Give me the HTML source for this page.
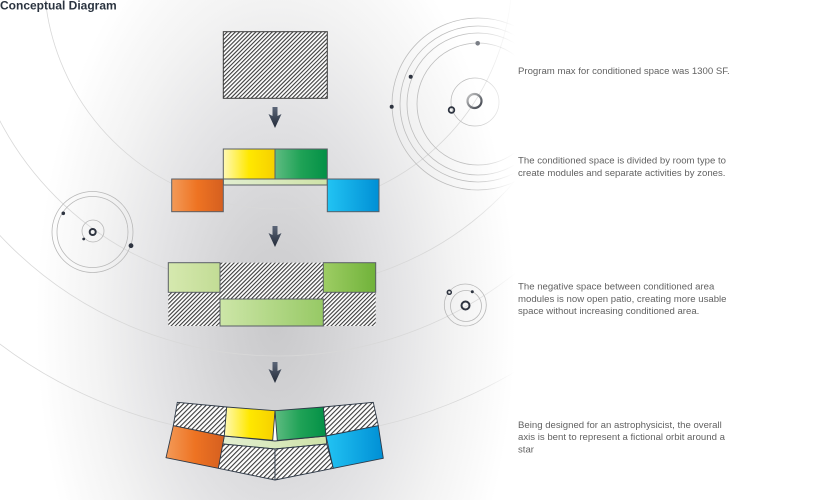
<!DOCTYPE html>
<html><head><meta charset="utf-8"><style>
html,body{margin:0;padding:0;}
body{width:820px;height:500px;overflow:hidden;position:relative;
background:#fff radial-gradient(ellipse 240px 430px at 276px 320px,#c9c9cb 0%,#d3d3d5 22%,#e2e2e4 48%,#f3f3f3 75%,#ffffff 100%);}
svg{position:absolute;left:0;top:0;}
</style></head><body>
<svg width="820" height="500" viewBox="0 0 820 500" xmlns="http://www.w3.org/2000/svg">
<defs>
<pattern id="hatch" patternUnits="userSpaceOnUse" width="2.9" height="2.9" patternTransform="rotate(45)">
<rect x="0" y="0" width="2.9" height="2.9" fill="#fff"/>
<rect x="0" y="0" width="1.1" height="2.9" fill="#3a3a3a"/>
</pattern>
<pattern id="hatch2" patternUnits="userSpaceOnUse" width="3.4" height="3.4" patternTransform="rotate(45)">
<rect x="0" y="0" width="3.4" height="3.4" fill="#fff"/>
<rect x="0" y="0" width="1.1" height="3.4" fill="#3a3a3a"/>
</pattern>
<linearGradient id="yel"><stop offset="0" stop-color="#fff9b4"/><stop offset="0.5" stop-color="#ffe800"/><stop offset="1" stop-color="#f6d000"/></linearGradient>
<linearGradient id="grn"><stop offset="0" stop-color="#5fbc82"/><stop offset="0.5" stop-color="#1fa256"/><stop offset="1" stop-color="#039046"/></linearGradient>
<linearGradient id="org"><stop offset="0" stop-color="#f39a58"/><stop offset="0.5" stop-color="#ee7322"/><stop offset="1" stop-color="#d55f20"/></linearGradient>
<linearGradient id="blu"><stop offset="0" stop-color="#22c3f3"/><stop offset="1" stop-color="#008fd5"/></linearGradient>
<linearGradient id="lg1"><stop offset="0" stop-color="#d6e9af"/><stop offset="1" stop-color="#c2dc95"/></linearGradient>
<linearGradient id="lg2"><stop offset="0" stop-color="#9ecd64"/><stop offset="1" stop-color="#70b23a"/></linearGradient>
<linearGradient id="lg3"><stop offset="0" stop-color="#cde6a8"/><stop offset="1" stop-color="#97c965"/></linearGradient>
<linearGradient id="strip"><stop offset="0" stop-color="#e2eed0"/><stop offset="1" stop-color="#cfe3a8"/></linearGradient>
<linearGradient id="arr" x1="0" y1="0" x2="0" y2="1"><stop offset="0" stop-color="#5c6678"/><stop offset="1" stop-color="#222a38"/></linearGradient>
<linearGradient id="ring" x1="0" y1="0" x2="1" y2="1"><stop offset="0" stop-color="#c8c8c8"/><stop offset="1" stop-color="#3a3f48"/></linearGradient>
<linearGradient id="fadeG" gradientUnits="userSpaceOnUse" x1="470" y1="0" x2="515" y2="0"><stop offset="0" stop-color="#fff"/><stop offset="1" stop-color="#000"/></linearGradient>
<mask id="fade"><rect x="0" y="0" width="820" height="500" fill="url(#fadeG)"/></mask>
</defs>

<!-- large orbit arcs -->
<g mask="url(#fade)" fill="none" stroke="#d8d8d8" stroke-width="0.8">
<circle cx="278" cy="-25" r="234"/>
<circle cx="278" cy="-25" r="314"/>
<circle cx="278" cy="-25" r="381"/>
<circle cx="278" cy="-25" r="462"/>
</g>

<!-- top-right orbit system -->
<g mask="url(#fade)" fill="none" stroke="#bdbdbd" stroke-width="0.8">
<circle cx="478" cy="104" r="86"/>
<circle cx="478" cy="104" r="78"/>
<circle cx="478" cy="104" r="71"/>
<circle cx="478" cy="104" r="61"/>
<circle cx="475" cy="102" r="24"/>
</g>
<circle cx="474.5" cy="101" r="7" fill="none" stroke="url(#ring)" stroke-width="2.2"/>
<circle cx="451.5" cy="110" r="2.8" fill="none" stroke="#2e3440" stroke-width="1.8"/>
<circle cx="391.7" cy="106.7" r="2" fill="#2e3440"/>
<circle cx="410.7" cy="76.7" r="2" fill="#2e3440"/>
<circle cx="477.7" cy="43.3" r="2.3" fill="#7a7e86"/>

<!-- left orbit system -->
<g fill="none" stroke="#b8b8b8" stroke-width="0.8">
<circle cx="92.5" cy="232" r="40.5"/>
<circle cx="92.5" cy="232" r="35.5"/>
<circle cx="93" cy="231" r="11"/>
</g>
<circle cx="92.7" cy="232" r="3" fill="none" stroke="#2e3440" stroke-width="2"/>
<circle cx="63.3" cy="213.3" r="1.8" fill="#2e3440"/>
<circle cx="83.7" cy="239" r="1.4" fill="#2e3440"/>
<circle cx="131" cy="245.7" r="2.4" fill="#2e3440"/>

<!-- small right orbit -->
<g fill="none" stroke="#b8b8b8" stroke-width="0.8">
<circle cx="465.3" cy="305" r="21"/>
<circle cx="466" cy="306" r="15.5"/>
</g>
<circle cx="465.5" cy="305.5" r="4" fill="none" stroke="#2e3440" stroke-width="2"/>
<circle cx="449.3" cy="292.3" r="2" fill="none" stroke="#2e3440" stroke-width="1.5"/>
<circle cx="472.3" cy="291.7" r="1.5" fill="#2e3440"/>

<!-- row 1 -->
<rect x="223.3" y="31.7" width="104" height="66.6" fill="url(#hatch)" stroke="#3a3a3a" stroke-width="1"/>

<!-- arrows -->
<g fill="url(#arr)">
<polygon points="272.5,107 277.5,107 277.5,116 281.5,114 275,128 268.5,114 272.5,116"/>
<polygon points="272.5,226 277.5,226 277.5,235 281.5,233 275,247 268.5,233 272.5,235"/>
<polygon points="272.5,362 277.5,362 277.5,371 281.5,369 275,383 268.5,369 272.5,371"/>
</g>

<!-- row 2 -->
<g stroke="#5a5f66" stroke-width="1">
<rect x="223.3" y="179" width="104" height="6" fill="url(#strip)"/>
<rect x="171.7" y="179" width="51.6" height="32.7" fill="url(#org)"/>
<rect x="327.3" y="179" width="51.7" height="32.7" fill="url(#blu)"/>
<rect x="223.3" y="149" width="51.7" height="30" fill="url(#yel)"/>
<rect x="275" y="149" width="52.3" height="30" fill="url(#grn)"/>
</g>

<!-- row 3 -->
<rect x="168.3" y="262.7" width="207.4" height="63.3" fill="url(#hatch)"/>
<g stroke="#5a5f66" stroke-width="1">
<rect x="168.3" y="262.7" width="51.7" height="29.6" fill="url(#lg1)"/>
<rect x="323.3" y="262.7" width="52.4" height="29.6" fill="url(#lg2)"/>
<rect x="220" y="299" width="103.3" height="27" fill="url(#lg3)"/>
</g>

<!-- row 4 bent -->
<polygon points="177.3,402.3 226.7,407 275,411 323.3,407 373.3,402.3 378.3,425.7 383.3,458.3 333.3,468.3 275,480 218.3,468.3 166,457.7 173.3,425.7" fill="#fff"/>
<g stroke="#2f3a48" stroke-width="0.9" stroke-linejoin="round">
<polygon points="177.3,402.3 226.7,407 224.3,436 173.3,425.7" fill="url(#hatch2)"/>
<polygon points="323.3,407 373.3,402.3 378.3,425.7 326,436" fill="url(#hatch2)"/>
<polygon points="224.3,436 275,441 326,436 326.7,444 275,449 222.7,444" fill="url(#strip)"/>
<polygon points="222.7,444 275,449 275,480 218.3,468.3" fill="url(#hatch2)"/>
<polygon points="275,449 326.7,444 333.3,468.3 275,480" fill="url(#hatch2)"/>
<polygon points="173.3,425.7 224.3,436 218.3,468.3 166,457.7" fill="url(#org)"/>
<polygon points="326,436 378.3,425.7 383.3,458.3 333.3,468.3" fill="url(#blu)"/>
<polygon points="226.7,407 275,410.7 272.7,440.3 224.3,436" fill="url(#yel)"/>
<polygon points="275,410.7 323.3,407 326,436 277.3,440.5" fill="url(#grn)"/>
</g>

<!-- texts -->
<text x="0" y="9.5" font-family="Liberation Sans, Arial, sans-serif" font-size="12" font-weight="bold" fill="#2b3440">Conceptual Diagram</text>
<g font-family="Liberation Sans, Arial, sans-serif" font-size="9.6" fill="#626262">
<text x="518" y="74">Program max for conditioned space was 1300 SF.</text>
<text x="518" y="163.5">The conditioned space is divided by room type to</text>
<text x="518" y="176">create modules and separate activities by zones.</text>
<text x="518" y="289.5">The negative space between conditioned area</text>
<text x="518" y="301.8">modules is now open patio, creating more usable</text>
<text x="518" y="314">space without increasing conditioned area.</text>
<text x="518" y="427.8">Being designed for an astrophysicist, the overall</text>
<text x="518" y="440">axis is bent to represent a fictional orbit around a</text>
<text x="518" y="452.3">star</text>
</g>
</svg>
</body></html>
